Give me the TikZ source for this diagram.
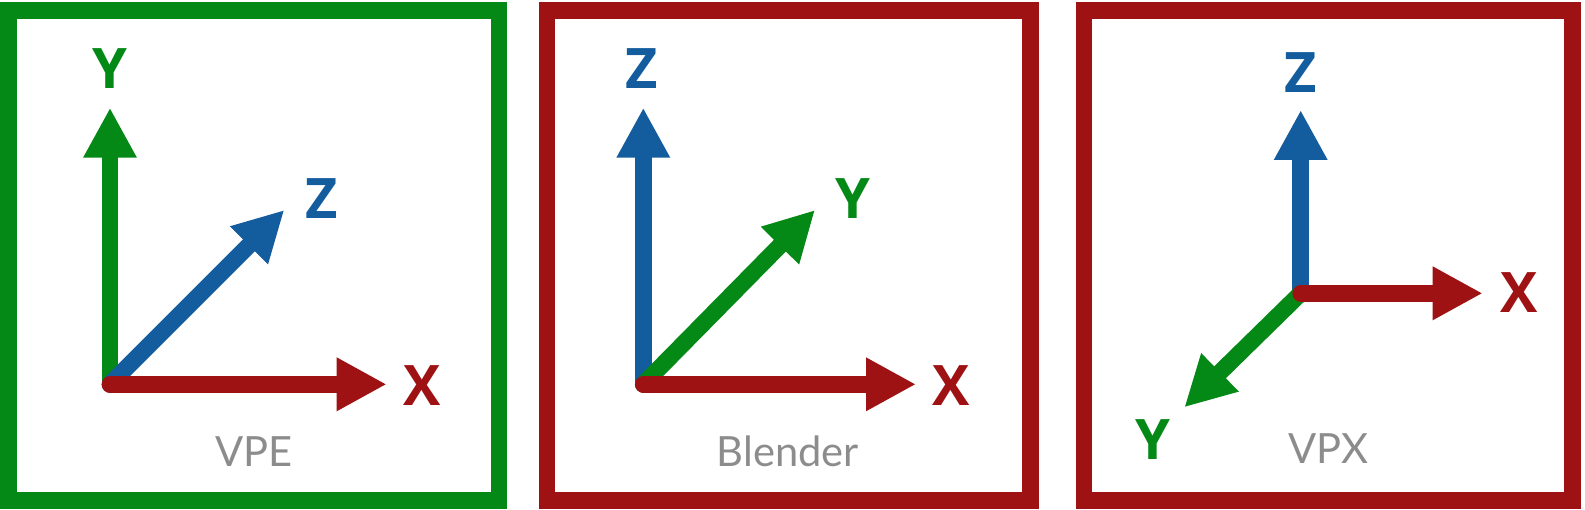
\documentclass[tikz,border=0pt]{standalone}
\usepackage{fontspec}
\usepackage{xcolor}
\usepackage{tikz}
\usetikzlibrary{arrows.meta, positioning}
\newfontfamily\axisfont{Open Sans}
\newfontfamily\namefont{Lato}
\definecolor{axgreen}{RGB}{4,137,22}
\definecolor{axred}{RGB}{158,18,19}
\definecolor{axblue}{RGB}{19,92,158}
\definecolor{namegray}{RGB}{140,140,140}

\begin{document}
\begin{tikzpicture}[x=0.02cm, y=-0.02cm,
    axis/.style={line width=0.334cm, line cap=round, -{Triangle[length=1cm, width=1cm]}},
    frame/.style={line width=0.334cm},
    lbl/.style={anchor=base, inner sep=0pt, font=\axisfont\bfseries\fontsize{31.8}{32}\selectfont},
    sysname/.style={anchor=base, inner sep=0pt, text=namegray, font=\namefont\fontsize{23.7}{24}\selectfont}]

    \useasboundingbox (0,0) rectangle (1585,510);

    % =================================================================
    % 1. VPE : Y len, Z cheo, X ngang
    % =================================================================
    \draw[frame, axgreen] (8.5,10.7) rectangle (499,500.7);
    \coordinate (oA) at (110,384.3);
    \coordinate (yA) at (110,107.7);
    \coordinate (zA) at (284.3,210);
    \coordinate (xA) at (386.7,384.3);
    \draw[axis, axgreen] (oA) -- (yA);
    \draw[axis, axblue] (oA) -- (zA);
    \draw[axis, axred] (oA) -- (xA);

    \node[lbl, text=axgreen] (labYA) at (110,88.3) {Y};
    \node[lbl, text=axblue] (labZA) at (321.3,218.3) {Z};
    \node[lbl, text=axred] (labXA) at (422,405) {X};
    \node[sysname] (nameA) at (254.3,466.7) {VPE};

    % =================================================================
    % 2. Blender : Z len, Y cheo, X ngang
    % =================================================================
    \draw[frame, axred] (547,10.7) rectangle (1030.7,500.7);
    \coordinate (oB) at (643.3,384.3);
    \coordinate (zB) at (643.3,107.7);
    \coordinate (yB) at (815,210);
    \coordinate (xB) at (916,384.3);
    \draw[axis, axblue] (oB) -- (zB);
    \draw[axis, axgreen] (oB) -- (yB);
    \draw[axis, axred] (oB) -- (xB);

    \node[lbl, text=axblue] (labZB) at (641.3,88.3) {Z};
    \node[lbl, text=axgreen] (labYB) at (853,218.3) {Y};
    \node[lbl, text=axred] (labXB) at (950.8,405) {X};
    \node[sysname] (nameB) at (787.8,466.7) {Blender};

    % =================================================================
    % 3. VPX : Z len, X ngang, Y xuong duoi
    % =================================================================
    \draw[frame, axred] (1084,10.7) rectangle (1572.3,500.7);
    \coordinate (oC) at (1300.7,293.3);
    \coordinate (zC) at (1300.7,110);
    \coordinate (yC) at (1184.3,407.3);
    \coordinate (xC) at (1482.7,293.3);
    \draw[axis, axblue] (oC) -- (zC);
    \draw[axis, axgreen] (oC) -- (yC);
    \draw[axis, axred] (oC) -- (xC);

    \node[lbl, text=axblue] (labZC) at (1300.5,92.7) {Z};
    \node[lbl, text=axred] (labXC) at (1518.8,312.3) {X};
    \node[lbl, text=axgreen] (labYC) at (1153,459) {Y};
    \node[sysname] (nameC) at (1328.3,463.3) {VPX};

\end{tikzpicture}
\end{document}
